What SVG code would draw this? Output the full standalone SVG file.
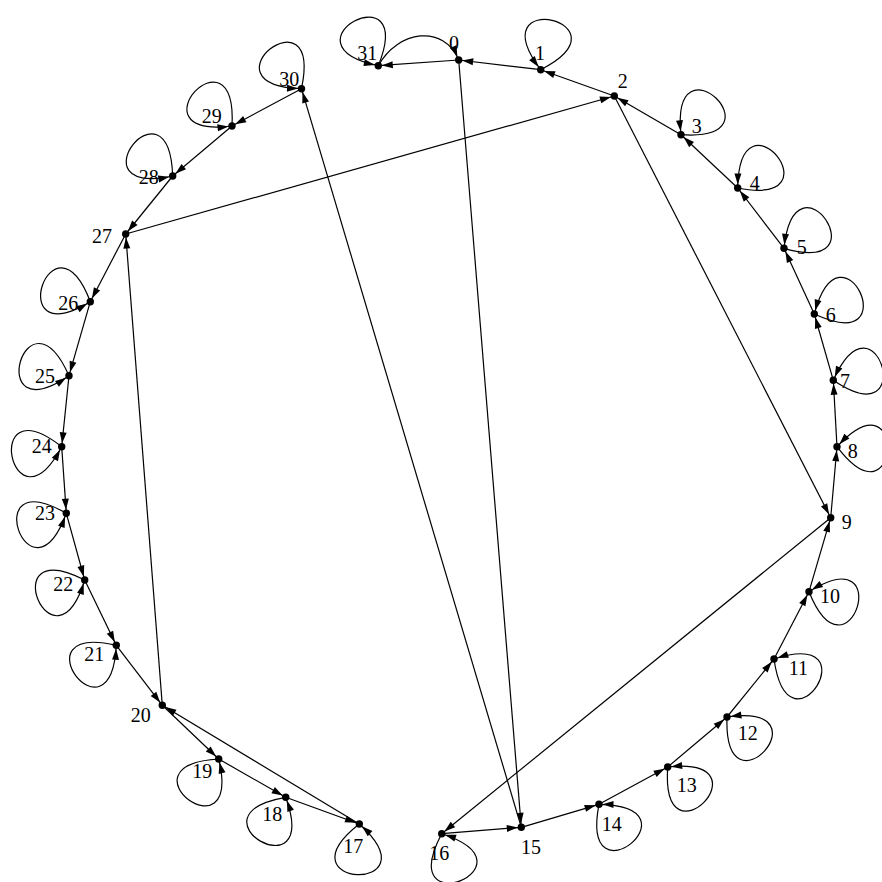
<svg xmlns="http://www.w3.org/2000/svg" width="882" height="882" viewBox="0 0 882 882">
<style>
.e{fill:none;stroke:#000;stroke-width:1.2;marker-end:url(#a)}
.n circle{fill:#000}
.n text{font-family:"Liberation Serif","DejaVu Serif",serif;font-size:20px;text-anchor:middle;fill:#000}
</style>
<defs>
<marker id="a" markerUnits="userSpaceOnUse" markerWidth="20" markerHeight="20" refX="14.5" refY="5" orient="auto" overflow="visible"><path d="M0,1.5 L11,5 L0,8.5 Z" fill="#000"/></marker>
</defs>
<rect width="882" height="882" fill="#fff"/>
<g id="connectors">
<path class="e" d="M458.7,60 L378.3,65.7"/>
<path class="e" d="M378.3,65.7 C398,30 444,24 458.7,60"/>
<path class="e" d="M540.7,69.7 L458.7,60"/>
<path class="e" d="M614.3,96 L540.7,69.7"/>
<path class="e" d="M681,134.7 L614.3,96"/>
<path class="e" d="M737.7,188 L681,134.7"/>
<path class="e" d="M784,248.3 L737.7,188"/>
<path class="e" d="M814.3,314 L784,248.3"/>
<path class="e" d="M833.3,380.3 L814.3,314"/>
<path class="e" d="M837,446.7 L833.3,380.3"/>
<path class="e" d="M830.7,517.7 L837,446.7"/>
<path class="e" d="M809,591.7 L830.7,517.7"/>
<path class="e" d="M774,659 L809,591.7"/>
<path class="e" d="M727,717 L774,659"/>
<path class="e" d="M667.7,767 L727,717"/>
<path class="e" d="M599,804.3 L667.7,767"/>
<path class="e" d="M521.3,827.3 L599,804.3"/>
<path class="e" d="M441.7,833.7 L521.3,827.3"/>
<path class="e" d="M830.7,517.7 L441.7,833.7"/>
<path class="e" d="M614.3,96 L830.7,517.7"/>
<path class="e" d="M125.7,234 L614.3,96"/>
<path class="e" d="M458.7,60 L521.3,827.3"/>
<path class="e" d="M521.3,827.3 L301.5,88.7"/>
<path class="e" d="M301.5,88.7 L232,126"/>
<path class="e" d="M232,126 L172.7,176"/>
<path class="e" d="M172.7,176 L125.7,234"/>
<path class="e" d="M125.7,234 L90.3,301.7"/>
<path class="e" d="M90.3,301.7 L69,375.7"/>
<path class="e" d="M69,375.7 L61.7,446.7"/>
<path class="e" d="M61.7,446.7 L66.3,513.3"/>
<path class="e" d="M66.3,513.3 L84.7,580"/>
<path class="e" d="M84.7,580 L116.3,645.3"/>
<path class="e" d="M116.3,645.3 L162.3,705.3"/>
<path class="e" d="M162.3,705.3 L218.7,759"/>
<path class="e" d="M218.7,759 L285.7,797.3"/>
<path class="e" d="M285.7,797.3 L359.3,824"/>
<path class="e" d="M359.3,824 L162.3,705.3"/>
<path class="e" d="M162.3,705.3 L125.7,234"/>
<path class="e" d="M540.7,69.7 C634.3,22 477.5,-14.2 540.7,69.7"/>
<path class="e" d="M681,134.7 C785.7,142 670,30.3 681,134.7"/>
<path class="e" d="M737.7,188 C840.8,208 739.5,83 737.7,188"/>
<path class="e" d="M784,248.3 C884.9,277.2 795,143.9 784,248.3"/>
<path class="e" d="M814.3,314 C909.5,358.4 841.5,212.6 814.3,314"/>
<path class="e" d="M833.3,380.3 C920.3,439 876,284.4 833.3,380.3"/>
<path class="e" d="M837,446.7 C900.2,530.6 908.6,369.9 837,446.7"/>
<path class="e" d="M809,591.7 C848.3,689.1 898,536.1 809,591.7"/>
<path class="e" d="M774,659 C788.6,763 873.9,626.6 774,659"/>
<path class="e" d="M727,717 C723.3,821.9 831,702.4 727,717"/>
<path class="e" d="M667.7,767 C660.4,871.7 772.1,756 667.7,767"/>
<path class="e" d="M599,804.3 C579,907.4 704,806.1 599,804.3"/>
<path class="e" d="M441.7,833.7 C392.4,926.4 541.6,866.1 441.7,833.7"/>
<path class="e" d="M359.3,824 C276.6,888.6 437.3,894.3 359.3,824"/>
<path class="e" d="M285.7,797.3 C182.3,815.5 321.6,896 285.7,797.3"/>
<path class="e" d="M218.7,759 C113.9,765.4 243.2,861.1 218.7,759"/>
<path class="e" d="M116.3,645.3 C14,621.7 110.8,750.2 116.3,645.3"/>
<path class="e" d="M84.7,580 C-8.9,532.3 54,680.4 84.7,580"/>
<path class="e" d="M66.3,513.3 C-24.6,460.8 30.4,612 66.3,513.3"/>
<path class="e" d="M61.7,446.7 C-21,382.1 12.4,539.4 61.7,446.7"/>
<path class="e" d="M69,375.7 C26.3,279.8 -18,434.4 69,375.7"/>
<path class="e" d="M90.3,301.7 C52.7,203.7 0.3,355.8 90.3,301.7"/>
<path class="e" d="M172.7,176 C169,71.1 70,197.8 172.7,176"/>
<path class="e" d="M232,126 C237.5,21.1 127.8,138.8 232,126"/>
<path class="e" d="M301.5,88.7 C323.3,-14 196.6,85 301.5,88.7"/>
<path class="e" d="M378.3,65.7 C417.6,-31.7 275.6,43.9 378.3,65.7"/>
</g>
<g id="n0" class="n"><circle cx="458.7" cy="60" r="3.7"/><text x="454" y="50">0</text></g>
<g id="n1" class="n"><circle cx="540.7" cy="69.7" r="3.7"/><text x="540" y="60">1</text></g>
<g id="n2" class="n"><circle cx="614.3" cy="96" r="3.7"/><text x="622.7" y="87.7">2</text></g>
<g id="n3" class="n"><circle cx="681" cy="134.7" r="3.7"/><text x="696.7" y="133">3</text></g>
<g id="n4" class="n"><circle cx="737.7" cy="188" r="3.7"/><text x="754.7" y="189.7">4</text></g>
<g id="n5" class="n"><circle cx="784" cy="248.3" r="3.7"/><text x="801.7" y="253.7">5</text></g>
<g id="n6" class="n"><circle cx="814.3" cy="314" r="3.7"/><text x="830.7" y="322">6</text></g>
<g id="n7" class="n"><circle cx="833.3" cy="380.3" r="3.7"/><text x="845" y="387.7">7</text></g>
<g id="n8" class="n"><circle cx="837" cy="446.7" r="3.7"/><text x="852.7" y="458">8</text></g>
<g id="n9" class="n"><circle cx="830.7" cy="517.7" r="3.7"/><text x="846.7" y="529.3">9</text></g>
<g id="n10" class="n"><circle cx="809" cy="591.7" r="3.7"/><text x="830" y="602.7">10</text></g>
<g id="n11" class="n"><circle cx="774" cy="659" r="3.7"/><text x="798.3" y="675.3">11</text></g>
<g id="n12" class="n"><circle cx="727" cy="717" r="3.7"/><text x="747.7" y="740.3">12</text></g>
<g id="n13" class="n"><circle cx="667.7" cy="767" r="3.7"/><text x="686.7" y="791.7">13</text></g>
<g id="n14" class="n"><circle cx="599" cy="804.3" r="3.7"/><text x="611.7" y="830.7">14</text></g>
<g id="n15" class="n"><circle cx="521.3" cy="827.3" r="3.7"/><text x="531" y="853.7">15</text></g>
<g id="n16" class="n"><circle cx="441.7" cy="833.7" r="3.7"/><text x="439.3" y="859.7">16</text></g>
<g id="n17" class="n"><circle cx="359.3" cy="824" r="3.7"/><text x="353.3" y="852.7">17</text></g>
<g id="n18" class="n"><circle cx="285.7" cy="797.3" r="3.7"/><text x="272.3" y="821.3">18</text></g>
<g id="n19" class="n"><circle cx="218.7" cy="759" r="3.7"/><text x="202.3" y="777.7">19</text></g>
<g id="n20" class="n"><circle cx="162.3" cy="705.3" r="3.7"/><text x="140.7" y="721.7">20</text></g>
<g id="n21" class="n"><circle cx="116.3" cy="645.3" r="3.7"/><text x="94.3" y="661">21</text></g>
<g id="n22" class="n"><circle cx="84.7" cy="580" r="3.7"/><text x="63.3" y="591">22</text></g>
<g id="n23" class="n"><circle cx="66.3" cy="513.3" r="3.7"/><text x="45" y="520.3">23</text></g>
<g id="n24" class="n"><circle cx="61.7" cy="446.7" r="3.7"/><text x="41.7" y="452.7">24</text></g>
<g id="n25" class="n"><circle cx="69" cy="375.7" r="3.7"/><text x="45" y="383">25</text></g>
<g id="n26" class="n"><circle cx="90.3" cy="301.7" r="3.7"/><text x="68.3" y="309.7">26</text></g>
<g id="n27" class="n"><circle cx="125.7" cy="234" r="3.7"/><text x="102" y="242.7">27</text></g>
<g id="n28" class="n"><circle cx="172.7" cy="176" r="3.7"/><text x="148.7" y="183.7">28</text></g>
<g id="n29" class="n"><circle cx="232" cy="126" r="3.7"/><text x="211.7" y="122.7">29</text></g>
<g id="n30" class="n"><circle cx="301.5" cy="88.7" r="3.7"/><text x="289.3" y="86">30</text></g>
<g id="n31" class="n"><circle cx="378.3" cy="65.7" r="3.7"/><text x="367.3" y="60.3">31</text></g>
</svg>
